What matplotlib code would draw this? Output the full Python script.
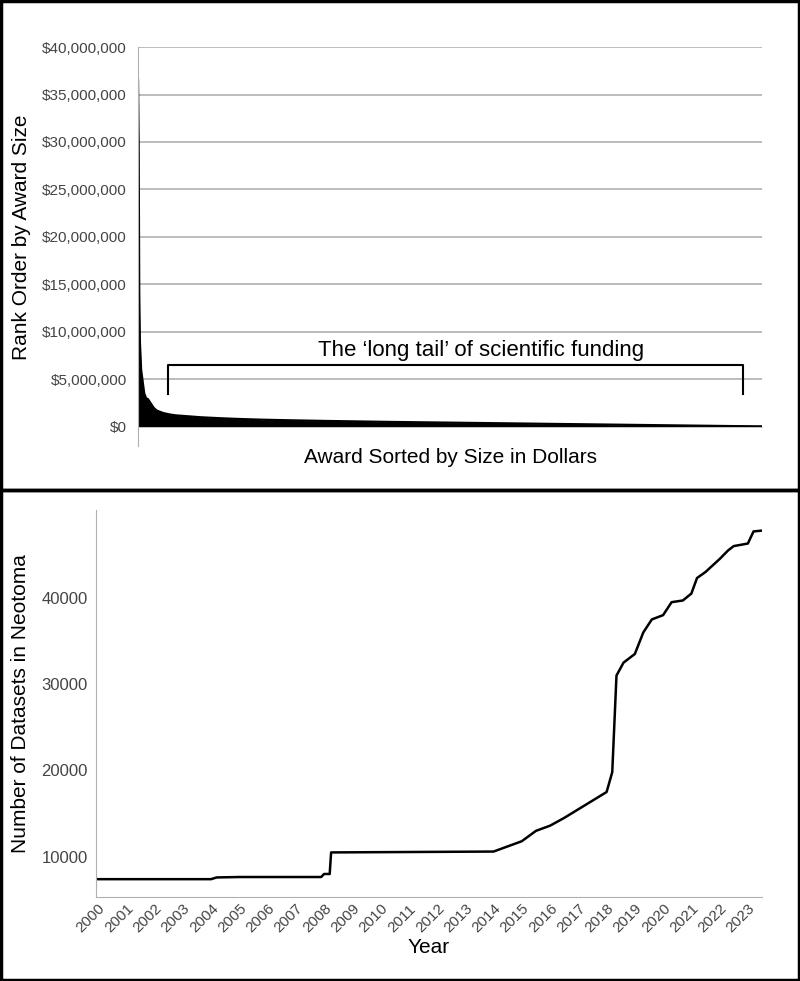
import matplotlib
matplotlib.use("Agg")
import matplotlib.pyplot as plt
from matplotlib.patches import Rectangle
import numpy as np

plt.rcParams["font.family"] = "Liberation Sans"

# Top: rank-ordered award sizes (rank index out of 1000, award dollars)
award_rank = [0, 1, 2, 3, 5, 8, 10, 13, 16, 20, 25, 30, 40, 50, 60, 80, 100, 130, 160, 200,
              250, 300, 350, 400, 450, 500, 550, 600, 650, 700, 750, 800, 850, 900, 950, 1000]
award_size = [36500000, 30000000, 14000000, 9000000, 6000000, 4500000, 3500000, 3000000, 2900000,
              2500000, 2000000, 1700000, 1450000, 1300000, 1200000, 1100000, 1000000, 900000,
              820000, 740000, 670000, 610000, 560000, 510000, 470000, 430000, 390000, 350000,
              310000, 270000, 230000, 190000, 150000, 110000, 70000, 40000]
y_ticks_top = [0, 5e6, 10e6, 15e6, 20e6, 25e6, 30e6, 35e6, 40e6]

# Bottom: datasets in Neotoma over time
years = [2000, 2004.0, 2004.2, 2005, 2007.9, 2008.0, 2008.2, 2008.25, 2014.0, 2014.5, 2015,
         2015.5, 2016, 2016.5, 2017, 2017.5, 2018, 2018.2, 2018.35, 2018.6, 2019, 2019.3,
         2019.6, 2020, 2020.3, 2020.7, 2021, 2021.2, 2021.5, 2022, 2022.3, 2022.5, 2023,
         2023.2, 2023.5]
datasets = [7400, 7400, 7600, 7650, 7650, 8000, 8000, 10500, 10600, 11200, 11800,
            13000, 13600, 14500, 15500, 16500, 17500, 19800, 31000, 32500, 33500, 36000,
            37500, 38000, 39500, 39700, 40500, 42300, 43000, 44500, 45500, 46000, 46300,
            47700, 47800]
year_ticks = list(range(2000, 2024))

fig = plt.figure(figsize=(8, 9.81), dpi=100)
grey = "#b0b0b0"

ax1 = fig.add_axes([0.1725, 0.565, 0.78, 0.387])
ax1.fill_between(award_rank, award_size, 0, color="black", lw=0)
ax1.plot(award_rank, award_size, color="black", lw=1.6)
ax1.set_xlim(0, 1000)
ax1.set_ylim(0, 40e6)
ax1.set_yticks(y_ticks_top)
ax1.set_yticklabels(["${:,.0f}".format(v) for v in y_ticks_top], fontsize=11, color="#444444")
ax1.grid(axis="y", color=grey, lw=1.2)
ax1.set_axisbelow(True)
ax1.set_xticks([])
for s in ["top", "right", "bottom"]:
    ax1.spines[s].set_visible(False)
ax1.spines["left"].set_color(grey)
ax1.spines["left"].set_bounds(-2e6, 40e6)
ax1.tick_params(axis="y", length=0, pad=8)
ax1.set_ylabel("Rank Order by Award Size", fontsize=15, labelpad=8)
ax1.set_xlabel("Award Sorted by Size in Dollars", fontsize=15, labelpad=15)
ax1.plot([48, 48, 970, 970], [3.4e6, 6.5e6, 6.5e6, 3.4e6], color="black", lw=1.5)
ax1.text(550, 8.0e6, "The \u2018long tail\u2019 of scientific funding", ha="center", va="center", fontsize=16)

ax2 = fig.add_axes([0.12, 0.086, 0.8325, 0.394])
ax2.plot(years, datasets, color="black", lw=1.8)
ax2.set_xlim(2000 - 2/28.26, 2023.5)
ax2.set_ylim(5376, 50170)
ax2.set_yticks([10000, 20000, 30000, 40000])
ax2.set_xticks(year_ticks)
ax2.set_xticklabels([str(y) for y in year_ticks], rotation=45, ha="right", rotation_mode="anchor", fontsize=11)
ax2.tick_params(axis="y", labelsize=12, length=0, colors="#444444", pad=6)
ax2.tick_params(axis="x", length=0, colors="#444444")
for s in ["top", "right"]:
    ax2.spines[s].set_visible(False)
ax2.spines["left"].set_color(grey)
ax2.spines["bottom"].set_color(grey)
ax2.set_ylabel("Number of Datasets in Neotoma", fontsize=15, labelpad=8)
ax2.set_xlabel("Year", fontsize=15, labelpad=2)

fig.patches.append(Rectangle((0.001, 1 - 490/981), 0.998, 490/981 - 0.001, transform=fig.transFigure,
                             fill=False, ec="black", lw=2.5))
fig.patches.append(Rectangle((0.001, 0.001), 0.998, 1 - 490/981 - 0.001, transform=fig.transFigure,
                             fill=False, ec="black", lw=2.5))
fig.savefig("out.png", dpi=100)
